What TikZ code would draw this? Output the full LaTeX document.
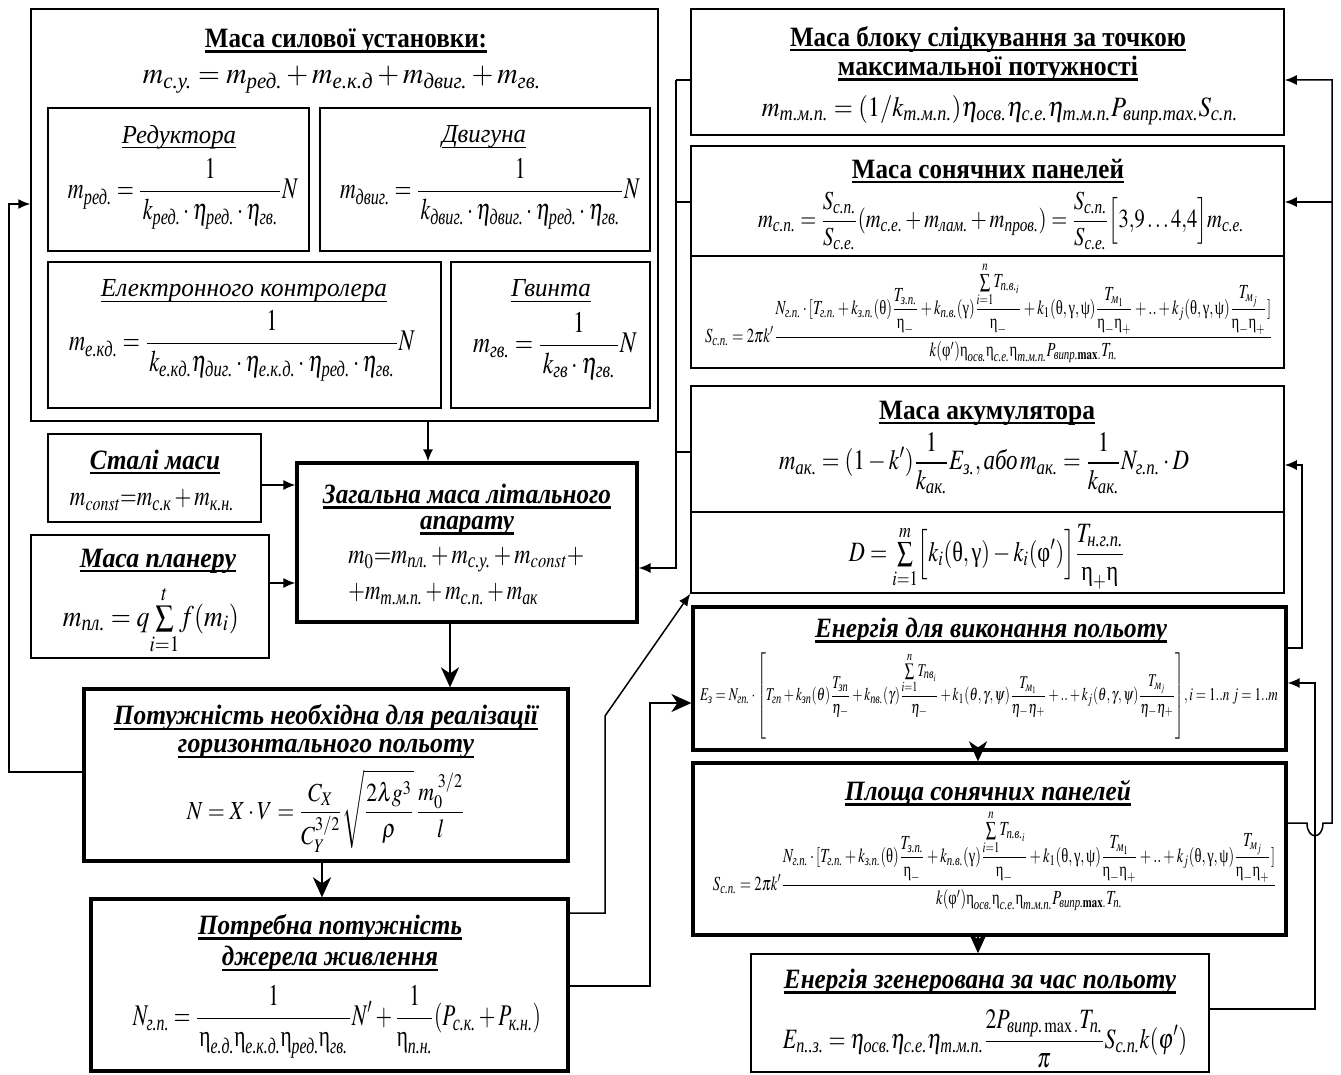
\documentclass[tikz,border=0pt]{standalone}
\usepackage{amsmath}
\usepackage{mathptmx}
\usepackage{fontspec}
\setmainfont{Liberation Serif}
\usepackage{graphicx}
\usetikzlibrary{arrows.meta,fit}
\newsavebox\ulbox
\newcommand\ulT[2][0.6pt]{\sbox\ulbox{#2}\leavevmode\rlap{\rule[-2.6pt]{\wd\ulbox}{#1}}\usebox\ulbox}
\newcommand\wfit[2]{\resizebox{#1}{\height}{#2}}
\newcommand\cy[1]{\text{\normalfont\itshape #1}}
\newcommand\ug[1]{\text{\normalfont #1}}
\newcommand\ueta{\ug{η}}
\newcommand\fsz[1]{\fontsize{#1}{#1}\selectfont}
\newcommand\FSform{$\displaystyle S_{\cy{с.п.}}=2\pi k'\frac{N_{\cy{г.п.}}\cdot[T_{\cy{г.п.}}+k_{\cy{з.п.}}(\ug{θ})\dfrac{T_{\cy{з.п.}}}{\ueta_-}+k_{\cy{п.в.}}(\ug{γ})\dfrac{{\textstyle\sum\limits_{i=1}^{n}}T_{\cy{п.в.}_i}}{\ueta_-}+k_1(\ug{θ},\ug{γ},\ug{ψ})\dfrac{T_{\cy{м}_1}}{\ueta_-\ueta_+}+..+k_j(\ug{θ},\ug{γ},\ug{ψ})\dfrac{T_{\cy{м}_j}}{\ueta_-\ueta_+}]}{k(\ug{φ}')\ueta_{\cy{осв.}}\ueta_{\cy{с.е.}}\ueta_{\cy{т.м.п.}}P_{\cy{випр.}\mathbf{max}.}T_{\cy{п.}}}$}
\begin{document}
\begin{tikzpicture}[x=0.5pt,y=-0.5pt,
  bx/.style={draw, line width=0.75pt, inner sep=0pt},
  bxt/.style={draw, line width=1.6pt, inner sep=0pt},
  txt/.style={inner sep=0pt, align=center},
  con/.style={line width=0.75pt},
  arr/.style={line width=0.75pt, -{Latex[length=6pt,width=5pt]}},
  big/.style={line width=1.3pt, -{Stealth[length=10pt,width=9pt,inset=3pt]}}]
\useasboundingbox (0,0) rectangle (1341,1075);
\fill[white] (0,0) rectangle (1341,1075);
% ---------- boxes
\node[bx, fit={(31,9) (658,421)}] (silova) {};
\node[bx, fit={(48,108) (309,251)}] (red) {};
\node[bx, fit={(320,108) (650,251)}] (dvyg) {};
\node[bx, fit={(48,262) (441,408)}] (ekd) {};
\node[bx, fit={(451,262) (650,408)}] (gvynt) {};
\node[bx, fit={(48,434) (261,522)}] (stali) {};
\node[bx, fit={(31,535) (269,658)}] (plan) {};
\node[bxt, fit={(297,463) (637,622)}] (zag) {};
\node[bxt, fit={(84,689) (568,861)}] (potr) {};
\node[bxt, fit={(91,899) (568,1071)}] (potreb) {};
\node[bx, fit={(691,9) (1284,135)}] (tmp) {};
\node[bx, fit={(691,146) (1284,368)}] (sp) {};
\node[bx, fit={(691,386) (1284,593)}] (ak) {};
\node[bxt, fit={(693,607) (1286,750)}] (en) {};
\node[bxt, fit={(693,763) (1286,935)}] (pl) {};
\node[bx, fit={(751,954) (1209,1072)}] (eg) {};
\draw[con] (sp.west |- 0,256) -- (sp.east |- 0,256);
\draw[con] (ak.west |- 0,512) -- (ak.east |- 0,512);
% ---------- texts: left column
\node[txt] (tsil) at (346,41) {\wfit{141pt}{\fsz{14}\bfseries\ulT[1.3pt]{Маса силової установки:}}};
\node[txt] (fsil) at (342,80) {\wfit{199pt}{\fsz{15}$\displaystyle m_{\cy{с.у.}}=m_{\cy{ред.}}+m_{\cy{е.к.д}}+m_{\cy{двиг.}}+m_{\cy{гв.}}$}};
\node[txt] (tred) at (179,137) {\wfit{57pt}{\fsz{13}\itshape\ulT[0.5pt]{Редуктора}}};
\node[txt] (fred) at (183,194) {\wfit{115pt}{\fsz{15}$\displaystyle m_{\cy{ред.}}=\frac{1}{\,k_{\cy{ред.}}\cdot\eta_{\cy{ред.}}\cdot\eta_{\cy{гв.}}\,}N$}};
\node[txt] (tdvyg) at (484,137) {\wfit{42pt}{\fsz{13}\itshape\ulT[0.5pt]{Двигуна}}};
\node[txt] (fdvyg) at (490,194) {\wfit{150pt}{\fsz{15}$\displaystyle m_{\cy{двиг.}}=\frac{1}{\,k_{\cy{двиг.}}\cdot\eta_{\cy{двиг.}}\cdot\eta_{\cy{ред.}}\cdot\eta_{\cy{гв.}}\,}N$}};
\node[txt] (tekd) at (244,291) {\wfit{143pt}{\fsz{13}\itshape\ulT[0.5pt]{Електронного контролера}}};
\node[txt] (fekd) at (242,346) {\wfit{173pt}{\fsz{15}$\displaystyle m_{\cy{е.кд.}}=\frac{1}{\,k_{\cy{е.кд.}}\eta_{\cy{диг.}}\cdot\eta_{\cy{е.к.д.}}\cdot\eta_{\cy{ред.}}\cdot\eta_{\cy{гв.}}\,}N$}};
\node[txt] (tgv) at (551,291) {\wfit{40pt}{\fsz{13}\itshape\ulT[0.5pt]{Гвинта}}};
\node[txt] (fgv) at (555,346) {\wfit{82pt}{\fsz{15}$\displaystyle m_{\cy{гв.}}=\frac{1}{\,k_{\cy{гв}}\cdot\eta_{\cy{гв.}}\,}N$}};
\node[txt] (tstali) at (155,462) {\wfit{65pt}{\fsz{14}\bfseries\itshape\ulT[1.2pt]{Сталі маси}}};
\node[txt] (fstali) at (152,500) {\wfit{82pt}{\fsz{14}$m_{\mathit{const}}{=}m_{\cy{с.к}}+m_{\cy{к.н.}}$}};
\node[txt] (tplan) at (158,561) {\wfit{78pt}{\fsz{14}\bfseries\itshape\ulT[1.2pt]{Маса планеру}}};
\node[txt] (fplan) at (151,620) {\wfit{88pt}{\fsz{15}$m_{\cy{пл.}}=q{\textstyle\sum\limits_{i=1}^{t}}f(m_i)$}};
\node[txt] (tzag) at (467,510) {\wfit{144pt}{\fsz{14}\bfseries\itshape\ulT[1.2pt]{Загальна маса літального}}\\[1pt]\wfit{47pt}{\fsz{14}\bfseries\itshape\ulT[1.2pt]{апарату}}};
\node[txt, anchor=west] (fzag1) at (348,560) {\wfit{118pt}{\fsz{14}$m_0{=}m_{\cy{пл.}}+m_{\cy{с.у.}}+m_{\mathit{const}}+$}};
\node[txt, anchor=west] (fzag2) at (348,594) {\wfit{95pt}{\fsz{14}$+m_{\cy{т.м.п.}}+m_{\cy{с.п.}}+m_{\cy{ак}}$}};
\node[txt] (tpotr) at (326,732) {\wfit{212pt}{\fsz{14}\bfseries\itshape\ulT[1.2pt]{Потужність необхідна для реалізації}}\\[2pt]\wfit{148pt}{\fsz{14}\bfseries\itshape\ulT[1.2pt]{горизонтального польоту}}};
\node[txt] (fpotr) at (326,811) {\wfit{139pt}{\fsz{13}$\displaystyle N=X\cdot V=\frac{C_X}{C_Y^{3/2}}\sqrt{\frac{2\lambda g^3}{\rho}}\,\frac{m_0^{\;3/2}}{l}$}};
\node[txt] (tpotreb) at (330,943) {\wfit{132pt}{\fsz{14}\bfseries\itshape\ulT[1.2pt]{Потребна потужність}}\\[2pt]\wfit{108pt}{\fsz{14}\bfseries\itshape\ulT[1.2pt]{джерела живлення}}};
\node[txt] (fpotreb) at (337,1022) {\wfit{204pt}{\fsz{15}$\displaystyle N_{\cy{г.п.}}=\frac{1}{\,\ueta_{\cy{е.д.}}\ueta_{\cy{е.к.д.}}\ueta_{\cy{ред.}}\ueta_{\cy{гв.}}\,}N'+\frac{1}{\ueta_{\cy{п.н.}}}(P_{\cy{с.к.}}+P_{\cy{к.н.}})$}};
% ---------- texts: right column
\node[txt] (ttmp) at (988,54) {\wfit{198pt}{\fsz{14}\bfseries\ulT[1.3pt]{Маса блоку слідкування за точкою}}\\[1pt]\wfit{150pt}{\fsz{14}\bfseries\ulT[1.3pt]{максимальної потужності}}};
\node[txt] (ftmp) at (1000,110) {\wfit{238pt}{\fsz{14}$m_{\cy{т.м.п.}}=(1/k_{\cy{т.м.п.}})\eta_{\cy{осв.}}\eta_{\cy{с.е.}}\eta_{\cy{т.м.п.}}P_{\cy{випр.max.}}S_{\cy{с.п.}}$}};
\node[txt] (tsp) at (988,171) {\wfit{136pt}{\fsz{14}\bfseries\ulT[1.3pt]{Маса сонячних панелей}}};
\node[txt] (fsp) at (1001,221) {\wfit{243pt}{\fsz{13}$\displaystyle m_{\cy{с.п.}}=\frac{S_{\cy{с.п.}}}{S_{\cy{с.е.}}}(m_{\cy{с.е.}}+m_{\cy{лам.}}+m_{\cy{пров.}})=\frac{S_{\cy{с.п.}}}{S_{\cy{с.е.}}}\Bigl[3{,}9\ldots4{,}4\Bigr]m_{\cy{с.е.}}$}};
\node[txt] (fS1) at (989,312) {\wfit{284pt}{\fsz{10}\FSform}};
\node[txt] (tak) at (987,413) {\wfit{108pt}{\fsz{14}\bfseries\ulT[1.3pt]{Маса акумулятора}}};
\node[txt] (fak) at (984,463) {\wfit{205pt}{\fsz{14}$\displaystyle m_{\cy{ак.}}=(1-k')\frac{1}{k_{\cy{ак.}}}E_{\cy{з.}},\cy{або}\,m_{\cy{ак.}}=\frac{1}{k_{\cy{ак.}}}N_{\cy{г.п.}}\cdot D$}};
\node[txt] (fD) at (987,557) {\wfit{138pt}{\fsz{14}$\displaystyle D={\textstyle\sum\limits_{i=1}^{m}}\Bigl[k_i(\ug{θ},\ug{γ})-k_i(\ug{φ}')\Bigr]\frac{T_{\cy{н.г.п.}}}{\ueta_+\ueta}$}};
\node[txt] (ten) at (991,631) {\wfit{176pt}{\fsz{14}\bfseries\itshape\ulT[1.2pt]{Енергія для виконання польоту}}};
\node[txt] (fen) at (989,696) {\wfit{289pt}{\fsz{9}$\displaystyle E_{\cy{з}}=N_{\cy{гп.}}\cdot\left[T_{\cy{гп}}+k_{\cy{зп}}(\theta)\frac{T_{\cy{зп}}}{\eta_-}+k_{\cy{пв.}}(\gamma)\frac{{\textstyle\sum\limits_{i=1}^{n}}T_{\cy{пв}_i}}{\eta_-}+k_1(\theta,\gamma,\psi)\frac{T_{\cy{м}_1}}{\eta_-\eta_+}+..+k_j(\theta,\gamma,\psi)\frac{T_{\cy{м}_j}}{\eta_-\eta_+}\right]\!,i=1..n\;j=1..m$}};
\node[txt] (tpl) at (988,793) {\wfit{143pt}{\fsz{14}\bfseries\itshape\ulT[1.2pt]{Площа сонячних панелей}}};
\node[txt] (fS2) at (995,860) {\wfit{282pt}{\fsz{10}\FSform}};
\node[txt] (teg) at (980,982) {\wfit{196pt}{\fsz{14}\bfseries\itshape\ulT[1.2pt]{Енергія згенерована за час польоту}}};
\node[txt] (feg) at (985,1039) {\wfit{202pt}{\fsz{14}$\displaystyle E_{\cy{п..з.}}=\eta_{\cy{осв.}}\eta_{\cy{с.е.}}\eta_{\cy{т.м.п.}}\frac{2P_{\cy{випр.}\max.}T_{\cy{п.}}}{\pi}S_{\cy{с.п.}}k(\varphi')$}};
% ---------- connectors
\draw[arr] (potr.west |- 0,772) -- (9,772) -- (9,204) -- (silova.west |- 0,204);
\draw[arr] (silova.south -| 428,0) -- (zag.north -| 428,0);
\draw[arr] (stali.east |- 0,485) -- (zag.west |- 0,485);
\draw[arr] (plan.east |- 0,583) -- (zag.west |- 0,583);
\draw[big] (zag.south -| 450,0) -- (potr.north -| 450,0);
\draw[big] (potr.south -| 322,0) -- (potreb.north -| 322,0);
\draw[arr] (potreb.east |- 0,913) -- (605,913) -- (605,716) -- (ak.south west);
\draw[big, line width=1pt] (potreb.east |- 0,986) -- (650,986) -- (650,703) -- (en.west |- 0,703);
\draw[con] (tmp.west |- 0,80) -- (676,80);
\draw[con] (sp.west |- 0,202) -- (676,202);
\draw[con] (ak.west |- 0,452) -- (676,452);
\draw[arr] (676,80) -- (676,568) -- (zag.east |- 0,568);
\draw[arr] (pl.east |- 0,823) -- (1307,823) .. controls (1307,840) and (1323,840) .. (1323,823) -- (1332,823) -- (1332,80) -- (tmp.east |- 0,80);
\draw[arr] (1332,202) -- (sp.east |- 0,202);
\draw[arr] (en.east |- 0,648) -- (1302,648) -- (1302,465) -- (ak.east |- 0,465);
\draw[arr] (eg.east |- 0,1009) -- (1315,1009) -- (1315,683) -- (en.east |- 0,683);
\draw[big] (en.south -| 978,0) -- (pl.north -| 978,0);
\draw[big] (pl.south -| 978,0) -- (eg.north -| 978,0);
\end{tikzpicture}
\end{document}
